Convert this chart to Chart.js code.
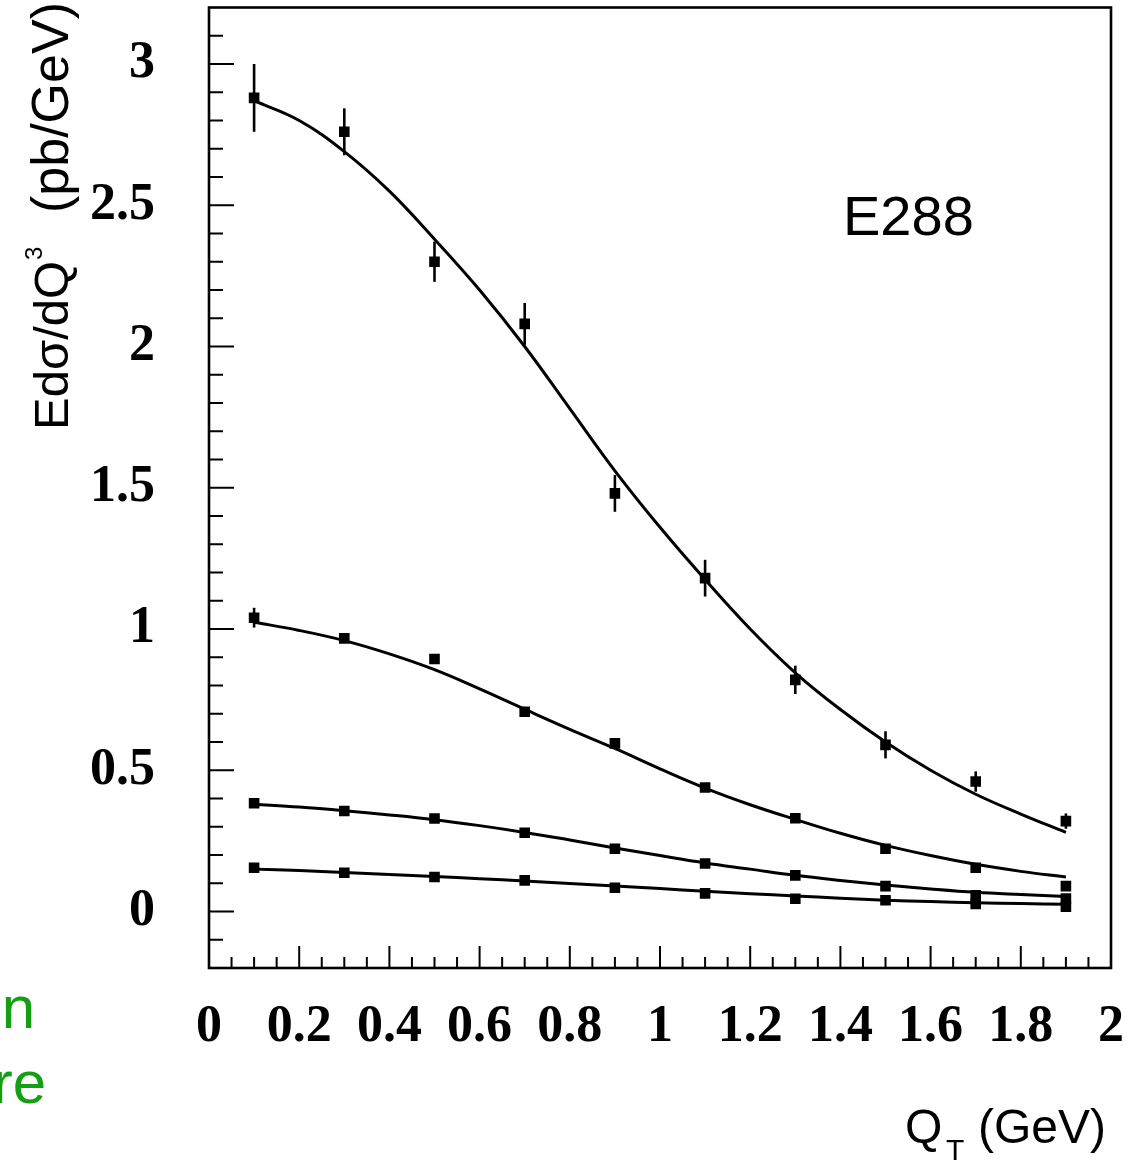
<!DOCTYPE html>
<html>
<head>
<meta charset="utf-8">
<script src="https://cdn.jsdelivr.net/npm/chart.js@4.4.1/dist/chart.umd.min.js"></script>
<style>
html,body{margin:0;padding:0;background:#fff;}
#wrap{width:1127px;height:1163px;position:relative;}
</style>
</head>
<body>
<div id="wrap"><canvas id="c"></canvas></div>
<script>
// E288 cross sections vs QT, four mass bins (highest curve = lowest mass)
const qt = [0.1, 0.3, 0.5, 0.7, 0.9, 1.1, 1.3, 1.5, 1.7, 1.9];
const bin1 = [2.88, 2.76, 2.30, 2.08, 1.48, 1.18, 0.82, 0.59, 0.46, 0.32];
const bin1Err = [0.12, 0.083, 0.071, 0.074, 0.065, 0.065, 0.05, 0.048, 0.036, 0.027];
const bin2 = [1.04, 0.967, 0.894, 0.707, 0.595, 0.439, 0.330, 0.222, 0.155, 0.09];
const bin2Err = [0.035, 0.015, 0.015, 0.012, 0.012, 0.01, 0.01, 0.01, 0.01, 0.01];
const bin3 = [0.383, 0.356, 0.329, 0.279, 0.222, 0.170, 0.128, 0.09, 0.057, 0.046];
const bin4 = [0.155, 0.137, 0.122, 0.110, 0.084, 0.064, 0.045, 0.040, 0.027, 0.017];

// fitted curves
const fitQt = [0.1, 0.2, 0.3, 0.4, 0.5, 0.6, 0.7, 0.8, 0.9, 1.0, 1.1, 1.2, 1.3, 1.4, 1.5, 1.6, 1.7, 1.8, 1.9];
const fit1 = [2.87, 2.80, 2.69, 2.55, 2.38, 2.20, 2.00, 1.78, 1.56, 1.36, 1.175, 1.00, 0.845, 0.715, 0.60, 0.50, 0.415, 0.345, 0.28];
const fit2 = [1.024, 0.995, 0.959, 0.912, 0.856, 0.788, 0.716, 0.645, 0.577, 0.505, 0.437, 0.378, 0.326, 0.277, 0.234, 0.198, 0.167, 0.142, 0.122];
const fit3 = [0.38, 0.37, 0.357, 0.342, 0.325, 0.304, 0.28, 0.253, 0.225, 0.198, 0.172, 0.15, 0.128, 0.11, 0.094, 0.08, 0.068, 0.06, 0.053];
const fit4 = [0.15, 0.145, 0.138, 0.131, 0.124, 0.116, 0.108, 0.099, 0.09, 0.081, 0.072, 0.063, 0.055, 0.047, 0.04, 0.035, 0.031, 0.028, 0.026];

// axis labels
const xTicks = [0, 0.2, 0.4, 0.6, 0.8, 1, 1.2, 1.4, 1.6, 1.8, 2];
const yTicks = [0, 0.5, 1, 1.5, 2, 2.5, 3];

const pts = (xs, ys) => xs.map((x, i) => ({x, y: ys[i]}));

function markers(ys, err){
  return {type: 'scatter', data: pts(qt, ys), err: err,
    pointStyle: 'rect', pointRadius: 7.5, pointBorderWidth: 0,
    backgroundColor: '#000', borderColor: '#000', showLine: false};
}
function curve(ys){
  return {type: 'line', data: pts(fitQt, ys), pointRadius: 0,
    borderColor: '#000', borderWidth: 3, fill: false, tension: 0.4};
}

const tickFont = {family: '"Liberation Serif", "DejaVu Serif", serif', size: 52, weight: 'bold'};

/* frame, inner ticks, error bars and text in ROOT style */
const rootStyle = {
  id: 'rootStyle',
  beforeDatasetsDraw(chart){
    const ctx = chart.ctx, xs = chart.scales.x, ys = chart.scales.y;
    ctx.save();
    ctx.strokeStyle = '#000';
    ctx.lineWidth = 2.6;
    chart.data.datasets.forEach(ds => {
      if(!ds.err) return;
      ds.data.forEach((p, i) => {
        const px = xs.getPixelForValue(p.x);
        ctx.beginPath();
        ctx.moveTo(px, ys.getPixelForValue(p.y - ds.err[i]));
        ctx.lineTo(px, ys.getPixelForValue(p.y + ds.err[i]));
        ctx.stroke();
      });
    });
    ctx.restore();
  },
  afterDraw(chart){
    const ctx = chart.ctx, a = chart.chartArea, xs = chart.scales.x, ys = chart.scales.y;
    ctx.save();
    ctx.strokeStyle = '#000';
    ctx.lineWidth = 2.6;
    ctx.strokeRect(a.left, a.top, a.right - a.left, a.bottom - a.top);

    ctx.lineWidth = 2;
    ctx.beginPath();
    for(let k = -1; k <= 31; k++){
      const v = k / 10, py = ys.getPixelForValue(v);
      const len = (k % 5 === 0) ? 25 : 14;
      ctx.moveTo(a.left, py); ctx.lineTo(a.left + len, py);
    }
    for(let k = 1; k < 40; k++){
      const v = k * 0.05, px = xs.getPixelForValue(v);
      const len = (k % 4 === 0) ? 22 : 11;
      ctx.moveTo(px, a.bottom); ctx.lineTo(px, a.bottom - len);
    }
    ctx.stroke();

    ctx.fillStyle = '#000';
    ctx.textBaseline = 'alphabetic';
    ctx.textAlign = 'left';

    // y title, rotated
    ctx.save();
    ctx.translate(68, 430);
    ctx.rotate(-Math.PI / 2);
    ctx.font = '49px "Liberation Sans", Arial, sans-serif';
    ctx.fillText('Edσ/dQ', 0, 0);
    ctx.font = '24px "Liberation Sans", Arial, sans-serif';
    ctx.fillText('3', 170, -26);
    ctx.font = '52px "Liberation Sans", Arial, sans-serif';
    ctx.fillText('(pb/GeV)', 217, 0);
    ctx.restore();

    // x title
    ctx.font = '48px "Liberation Sans", Arial, sans-serif';
    ctx.fillText('Q', 905, 1143);
    ctx.fillText('(GeV)', 978, 1143);
    ctx.font = '30px "Liberation Sans", Arial, sans-serif';
    ctx.fillText('T', 946, 1160);

    // experiment tag
    ctx.font = '56px "Liberation Sans", Arial, sans-serif';
    ctx.fillText('E288', 843, 235);

    // leftover text at the slide edge
    ctx.fillStyle = '#12a012';
    ctx.textAlign = 'right';
    ctx.font = '60px "Liberation Sans", Arial, sans-serif';
    ctx.fillText('n', 35, 1028);
    ctx.fillText('re', 46, 1103);
    ctx.restore();
  }
};

new Chart(document.getElementById('c'), {
  data: {
    datasets: [
      markers(bin1, bin1Err), markers(bin2, bin2Err), markers(bin3), markers(bin4),
      curve(fit1), curve(fit2), curve(fit3), curve(fit4)
    ]
  },
  options: {
    responsive: true,
    maintainAspectRatio: false,
    animation: false,
    layout: {padding: {top: 7, right: 16, left: 0, bottom: 0}},
    plugins: {legend: {display: false}, tooltip: {enabled: false}},
    scales: {
      x: {
        type: 'linear', min: 0, max: 2,
        grid: {display: false, drawTicks: false},
        border: {display: false},
        ticks: {font: tickFont, color: '#000', padding: 28, maxRotation: 0, autoSkip: false,
          callback: v => String(+v.toFixed(1))},
        afterBuildTicks: s => { s.ticks = xTicks.map(v => ({value: v})); },
        afterFit: s => { s.height = 195; s.paddingLeft = 0; s.paddingRight = 0; }
      },
      y: {
        type: 'linear', min: -0.2, max: 3.2,
        grid: {display: false, drawTicks: false},
        border: {display: false},
        ticks: {font: tickFont, color: '#000', padding: 54, autoSkip: false,
          callback: v => String(v)},
        afterBuildTicks: s => { s.ticks = yTicks.map(v => ({value: v})); },
        afterFit: s => { s.width = 209; s.paddingTop = 0; s.paddingBottom = 0; }
      }
    }
  },
  plugins: [rootStyle]
});
</script>
</body>
</html>
